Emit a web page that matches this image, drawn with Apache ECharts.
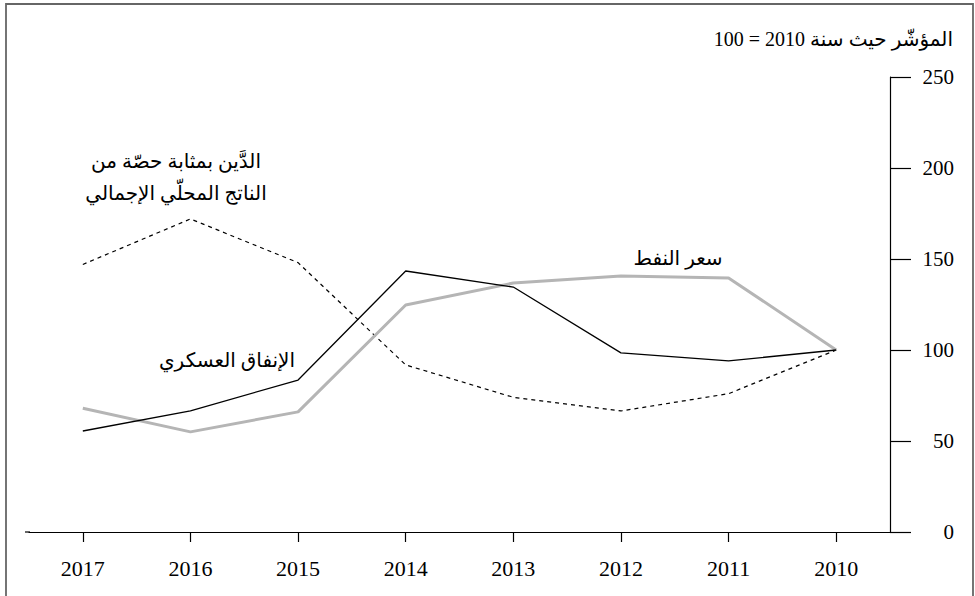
<!DOCTYPE html>
<html>
<head>
<meta charset="utf-8">
<script src="https://cdn.jsdelivr.net/npm/echarts@6/dist/echarts.min.js"></script>
<style>
  html, body { margin: 0; padding: 0; background: #fff; }
  #chart { width: 975px; height: 596px; }
</style>
</head>
<body>
<div id="chart"></div>
<script>
// years run right to left, as in the source figure
var years = ["2017", "2016", "2015", "2014", "2013", "2012", "2011", "2010"];

// index, 2010 = 100
var military = [55.5, 66.5, 83.5, 143.4, 134.6, 98.4, 94, 100];
var oilPrice = [68, 55, 66, 124.7, 136.8, 140.7, 139.6, 100];
var debtGdp = [147, 172, 148, 91.8, 74, 66.5, 76, 100];

var yTicks = { min: 0, max: 250, step: 50 };

var FONT = "'Liberation Serif', 'DejaVu Serif', 'DejaVu Sans', serif";
var RTL = function (s) { return "\u202B" + s + "\u202C"; };

function lineSeries(name, data, color, width, type) {
    return {
        name: name,
        type: "line",
        data: data,
        symbol: "none",
        silent: true,
        lineStyle: { color: color, width: width, type: type }
    };
}

function label(text, x, y, size) {
    return {
        type: "text", x: x, y: y, silent: true,
        style: { text: RTL(text), font: size + "px " + FONT, fill: "#000",
                 textAlign: "center", textVerticalAlign: "middle" }
    };
}

var chart = echarts.init(document.getElementById("chart"), null, { renderer: "svg" });

var option = {
    animation: false,
    backgroundColor: "#fff",
    textStyle: { fontFamily: FONT },
    grid: { left: 29, right: 85, top: 77, bottom: 64 },
    xAxis: {
        type: "category",
        data: years,
        boundaryGap: true,
        axisLine: { show: true, lineStyle: { color: "#000", width: 1.2 } },
        axisTick: { show: true, alignWithLabel: true, length: 10, lineStyle: { color: "#000", width: 1.2 } },
        axisLabel: { color: "#000", fontSize: 22, margin: 25, fontFamily: FONT },
        splitLine: { show: false }
    },
    yAxis: {
        type: "value",
        position: "right",
        min: yTicks.min,
        max: yTicks.max,
        interval: yTicks.step,
        axisLine: { show: true, lineStyle: { color: "#000", width: 1.2 } },
        axisTick: { show: true, length: 21, lineStyle: { color: "#000", width: 1.2 } },
        axisLabel: { color: "#000", fontSize: 21, margin: 64, align: "right", fontFamily: FONT },
        splitLine: { show: false }
    },
    series: [
        lineSeries("debt", debtGdp, "#000", 1.2, [4, 4]),
        lineSeries("oil", oilPrice, "#b5b5b5", 3, "solid"),
        lineSeries("military", military, "#000", 1.3, "solid")
    ],
    graphic: [
        // frame round the figure
        { type: "rect", shape: { x: 6, y: 4, width: 967, height: 600 },
          style: { fill: "none", stroke: "#666", lineWidth: 1.8 }, silent: true },
        // left extension of the x axis line
        { type: "line", shape: { x1: 25, y1: 532, x2: 30, y2: 532 },
          style: { stroke: "#000", lineWidth: 1.2 } },
        { type: "text", right: 22, top: 29,
          style: { text: RTL("المؤشّر حيث سنة 2010 = 100"), font: "20px " + FONT, fill: "#000" } },
        label("الدَّين بمثابة حصّة من", 176, 161, 20),
        label("الناتج المحلّي الإجمالي", 176, 193, 20),
        label("الإنفاق العسكري", 227, 360, 20),
        label("سعر النفط", 678, 258, 20)
    ]
};

chart.setOption(option);
</script>
</body>
</html>
